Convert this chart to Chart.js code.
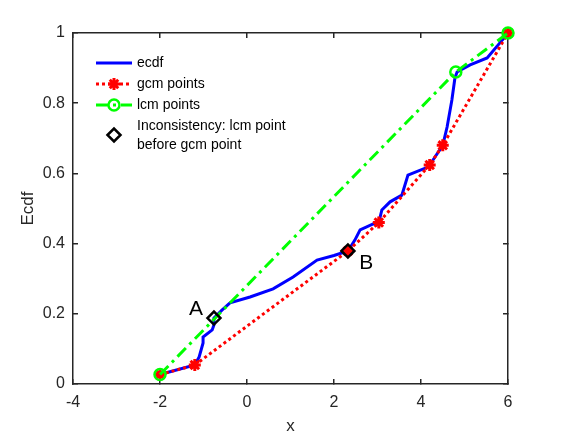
<!DOCTYPE html>
<html>
<head>
<meta charset="utf-8">
<script src="https://cdn.jsdelivr.net/npm/chart.js@4/dist/chart.umd.min.js"></script>
<style>
  html, body { margin: 0; padding: 0; background: #fff; }
  #wrap { width: 562px; height: 437px; position: relative; }
</style>
</head>
<body>
<div id="wrap"><canvas id="chart"></canvas></div>
<script>
// values
const ecdfX = [-2, -1.2, -1.1, -1.01, -1.01, -0.8, -0.76, -0.76, -0.57, -0.39, 0.07, 0.6, 1.06, 1.61, 2.0, 2.32,
  2.48, 2.6, 2.9, 3.03, 3.1, 3.29, 3.56, 3.7, 4.16, 4.2, 4.5, 4.6, 4.71, 4.78, 4.83, 5.13, 5.52, 5.93, 6];
const ecdfY = [0.027, 0.054, 0.077, 0.117, 0.134, 0.154, 0.168, 0.188, 0.211, 0.231, 0.248, 0.271, 0.305, 0.353, 0.366, 0.379,
  0.41, 0.439, 0.456, 0.46, 0.496, 0.519, 0.538, 0.595, 0.618, 0.624, 0.68, 0.732, 0.809, 0.872, 0.889, 0.909, 0.929, 0.989, 1];

const gcmX = [-2, -1.2, 2.32, 3.03, 4.2, 4.5, 6];
const gcmY = [0.027, 0.054, 0.379, 0.46, 0.624, 0.68, 1];

const lcmX = [-2, 4.8, 6];
const lcmY = [0.027, 0.889, 1];

const incX = [-0.76, 2.32];
const incY = [0.188, 0.379];

const pointLabels = ["A", "B"];
const pointLabelX = [-1.17, 2.74];
const pointLabelY = [0.214, 0.345];

const xTicks = [-4, -2, 0, 2, 4, 6];
const yTicks = [0, 0.2, 0.4, 0.6, 0.8, 1];

const legendItems = ["ecdf", "gcm points", "lcm points", "Inconsistency: lcm point", "before gcm point"];

const FONT = "'Liberation Sans', Arial, Helvetica, sans-serif";
const AXIS = "#262626";

function pts(xs, ys) {
  return xs.map((x, i) => ({ x: x, y: ys[i] }));
}

function marker(ctx, style, radius, color, x, y, width) {
  ctx.save();
  ctx.setLineDash([]);
  ctx.strokeStyle = color;
  ctx.fillStyle = style === "star" ? color : "rgba(0,0,0,0)";
  ctx.lineWidth = width;
  Chart.helpers.drawPoint(ctx, { pointStyle: style, radius: radius, rotation: 0, borderWidth: width }, x, y);
  ctx.restore();
}

// box axis with inward tick marks (MATLAB style)
function boxAxis(pos, ticks, showLabels, pad, extra) {
  return Object.assign({
    type: "linear",
    position: pos,
    afterBuildTicks: (s) => { s.ticks = ticks.map((v) => ({ value: v })); },
    grid: { display: true, drawOnChartArea: false, drawTicks: true, tickLength: -5, color: AXIS, lineWidth: 1.5 },
    border: { display: true, color: AXIS, width: 1.5 },
    ticks: { display: showLabels, padding: pad, color: AXIS, font: { family: FONT, size: 16 }, callback: (v) => String(v) }
  }, extra);
}

const labelPlugin = {
  id: "labels",
  afterDraw(chart) {
    const { ctx, chartArea: a, scales } = chart;
    ctx.save();
    // A / B labels
    ctx.fillStyle = "#000";
    ctx.font = "21px " + FONT;
    ctx.textAlign = "center";
    ctx.textBaseline = "middle";
    pointLabels.forEach((txt, i) => {
      ctx.fillText(txt, scales.x.getPixelForValue(pointLabelX[i]), scales.y.getPixelForValue(pointLabelY[i]));
    });

    // legend
    const lx0 = a.left + 23, lx1 = a.left + 59, mx = a.left + 41, tx = a.left + 64;
    const rows = [a.top + 30, a.top + 51, a.top + 72];
    ctx.lineWidth = 3;
    ctx.setLineDash([]);
    ctx.strokeStyle = "#0000ff";
    ctx.beginPath(); ctx.moveTo(lx0, rows[0]); ctx.lineTo(lx1, rows[0]); ctx.stroke();
    ctx.setLineDash([3, 3]);
    ctx.strokeStyle = "#ff0000";
    ctx.beginPath(); ctx.moveTo(lx0, rows[1]); ctx.lineTo(lx1, rows[1]); ctx.stroke();
    ctx.setLineDash([12, 5, 3, 5]);
    ctx.strokeStyle = "#00ff00";
    ctx.beginPath(); ctx.moveTo(lx0, rows[2]); ctx.lineTo(lx1, rows[2]); ctx.stroke();
    ctx.setLineDash([]);
    marker(ctx, "star", 6, "#ff0000", mx, rows[1], 3);
    marker(ctx, "circle", 5.5, "#00ff00", mx, rows[2], 2.5);
    marker(ctx, "rectRot", 6.5, "#000000", mx, a.top + 102, 2.5);

    ctx.fillStyle = "#000";
    ctx.font = "14px " + FONT;
    ctx.textAlign = "left";
    ctx.textBaseline = "middle";
    ctx.fillText(legendItems[0], tx, rows[0]);
    ctx.fillText(legendItems[1], tx, rows[1]);
    ctx.fillText(legendItems[2], tx, rows[2]);
    ctx.fillText(legendItems[3], tx, a.top + 93);
    ctx.fillText(legendItems[4], tx, a.top + 112);
    ctx.restore();
  }
};

const xOpts = { min: -4, max: 6 };
const yOpts = { min: 0, max: 1 };

new Chart(document.getElementById("chart"), {
  type: "scatter",
  data: {
    datasets: [
      {
        label: "ecdf", data: pts(ecdfX, ecdfY), showLine: true, clip: false, order: 4,
        borderColor: "#0000ff", borderWidth: 3, pointRadius: 0
      },
      {
        label: "gcm points", data: pts(gcmX, gcmY), showLine: true, clip: false, order: 3,
        borderColor: "#ff0000", borderWidth: 3, borderDash: [3, 3],
        pointStyle: "star", pointRadius: 6, pointBorderWidth: 3,
        pointBorderColor: "#ff0000", pointBackgroundColor: "#ff0000"
      },
      {
        label: "lcm points", data: pts(lcmX, lcmY), showLine: true, clip: false, order: 2,
        borderColor: "#00ff00", borderWidth: 3, borderDash: [12, 5, 3, 5],
        pointStyle: "circle", pointRadius: 5.5, pointBorderWidth: 2.5,
        pointBorderColor: "#00ff00", pointBackgroundColor: "rgba(0,0,0,0)"
      },
      {
        label: "Inconsistency", data: pts(incX, incY), showLine: false, clip: false, order: 1,
        pointStyle: "rectRot", pointRadius: 6.5, pointBorderWidth: 2.5,
        pointBorderColor: "#000000", pointBackgroundColor: "rgba(0,0,0,0)"
      }
    ]
  },
  options: {
    responsive: true,
    maintainAspectRatio: false,
    animation: false,
    devicePixelRatio: 1,
    layout: { padding: { left: 0, right: 0, top: 0, bottom: 0 } },
    plugins: { legend: { display: false }, tooltip: { enabled: false } },
    scales: {
      x: boxAxis("bottom", xTicks, true, 14, Object.assign({
        afterFit: (s) => { s.height = 53; },
        title: { display: true, text: "x", color: AXIS, font: { family: FONT, size: 17 }, padding: { top: 0, bottom: 0 } }
      }, xOpts)),
      x2: boxAxis("top", xTicks, false, 0, Object.assign({ afterFit: (s) => { s.height = 33; } }, xOpts)),
      y: boxAxis("left", yTicks, true, 13, Object.assign({
        afterFit: (s) => { s.width = 73; },
        title: { display: true, text: "Ecdf", color: AXIS, font: { family: FONT, size: 17 }, padding: { top: 18, bottom: 0 } }
      }, yOpts)),
      y2: boxAxis("right", yTicks, false, 0, Object.assign({ afterFit: (s) => { s.width = 54; } }, yOpts))
    }
  },
  plugins: [labelPlugin]
});
</script>
</body>
</html>
